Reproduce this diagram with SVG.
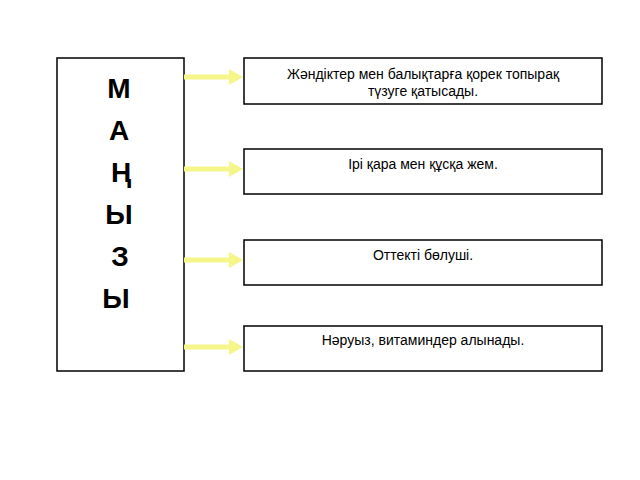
<svg xmlns="http://www.w3.org/2000/svg" width="640" height="480" viewBox="0 0 640 480">
<style>
.b{fill:#fff;stroke:#000;stroke-width:1.5}
.t{font-family:"Liberation Sans",Arial,sans-serif;font-size:14px;text-anchor:middle}
.L{font-family:"Liberation Sans",Arial,sans-serif;font-size:28px;font-weight:bold;text-anchor:middle}
.a{stroke:#f5f58a;stroke-width:5;fill:none}
.h{fill:#f5f58a}
</style>
<rect width="640" height="480" fill="#fff"/>
<g id="main"><rect class="b" x="57" y="58" width="127" height="313"/>
<text class="L" x="119" y="98">М</text><text class="L" x="119" y="140">А</text><text class="L" x="121" y="182">Ң</text><text class="L" x="119" y="224">Ы</text><text class="L" x="120" y="266">З</text><text class="L" x="116" y="308">Ы</text></g>
<g id="n1"><rect class="b" x="244" y="58" width="358" height="46"/><text class="t" x="423" y="79">Жәндіктер мен балықтарға қорек топырақ</text><text class="t" x="423" y="96">түзуге қатысады.</text></g>
<g id="n2"><rect class="b" x="244" y="149" width="358" height="45"/><text class="t" x="423" y="169">Ірі қара мен құсқа жем.</text></g>
<g id="n3"><rect class="b" x="244" y="240" width="358" height="45"/><text class="t" x="423" y="260">Оттекті бөлуші.</text></g>
<g id="n4"><rect class="b" x="244" y="326" width="358" height="45"/><text class="t" x="423" y="345">Нәруыз, витаминдер алынады.</text></g>
<g id="connectors">
<path class="a" d="M184 77H232"/><path class="h" d="M229 69L243 77L229 85Z"/>
<path class="a" d="M184 169H232"/><path class="h" d="M229 161L243 169L229 177Z"/>
<path class="a" d="M184 260H232"/><path class="h" d="M229 252L243 260L229 268Z"/>
<path class="a" d="M184 347H232"/><path class="h" d="M229 339L243 347L229 355Z"/>
</g>
</svg>
